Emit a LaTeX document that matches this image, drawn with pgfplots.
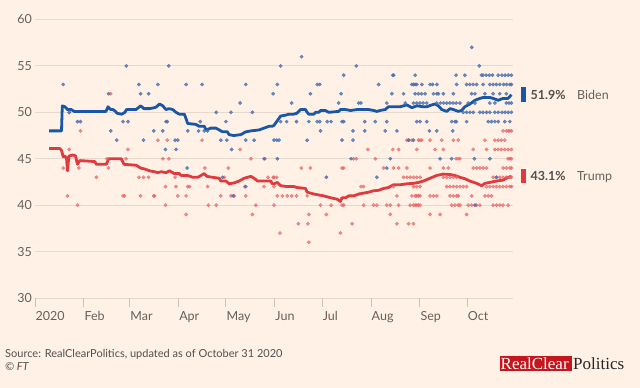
\documentclass[border=0pt]{standalone}
\usepackage{pgfplots}
\pgfplotsset{compat=1.18}
\usepackage{fontspec}
\setmainfont{Lato}
\newfontfamily\rcpfont{Liberation Serif}
\definecolor{bg}{HTML}{FFF1E5}
\definecolor{gridc}{HTML}{E6D9CE}
\definecolor{tickc}{HTML}{CEC3B8}
\definecolor{txt}{HTML}{66605C}
\definecolor{dark}{HTML}{33302E}
\definecolor{biden}{HTML}{1A56A8}
\definecolor{trump}{HTML}{E03A3E}
\definecolor{bidendot}{HTML}{4A6FB2}
\definecolor{trumpdot}{HTML}{EA6466}
\definecolor{rcpred}{HTML}{C4161C}
\begin{document}
\begin{tikzpicture}
\fill[bg] (0,0) rectangle (640bp,388bp);
\begin{axis}[
 at={(35bp,90bp)}, anchor=south west, scale only axis,
 width=478bp, height=278.5bp,
 xmin=0, xmax=303, ymin=30, ymax=60,
 axis line style={draw=none},
 ytick={30,35,...,60}, ymajorgrids, grid style={gridc, line width=0.9bp},
 xtick={0,31,60,91,121,152,182,213,244,274},
 xticklabels={2020,Feb,Mar,Apr,May,Jun,Jul,Aug,Sep,Oct},
 tick pos=left, xtick align=outside,
 major tick length=9bp,
 xtick style={tickc, line width=0.9bp},
 ytick style={draw=none},
 ticklabel style={font=\fontsize{12.5bp}{14bp}\selectfont, text=txt},
 xticklabel style={anchor=north west, inner sep=0pt, xshift=0.5bp, yshift=-4bp},
 yticklabel style={anchor=east, inner sep=0pt, xshift=-3bp},
 /pgf/number format/assume math mode=true,
 clip=false,
]
% Trump polls
\addplot[only marks, color=trumpdot, mark=*, mark size=1.7bp, opacity=0.7, mark options={draw=none, fill=trumpdot}] coordinates {
(48,52) (21.7,50) (28.8,48) (58.9,46) (21.7,46) (17.9,44) (45.5,45) (46.5,44) (57.7,45) (27.8,44) (38.9,43) (65.9,43) (68.8,43) (72,43) (20.6,41) (55.8,41) (56.8,41) (66.9,41) (75.3,41) (26.9,40)
(77.9,47) (83.8,47) (105.9,47) (130,46) (81,45) (84.8,45) (136.8,45) (145.8,45) (107.7,44) (122.5,44) (88.8,43) (120,43) (147.7,43) (151,43) (82.7,42) (89.4,42) (96.8,42) (97.9,42) (109.4,42) (133,42) (145.2,42) (75.8,41) (90.5,41) (95.8,41) (117.8,41) (124.2,41) (126.3,41) (133.6,41) (82.7,40) (109.9,40) (114.9,40) (140,40) (95.8,39) (137.8,39)
(211,46) (226.8,46) (202,45) (203.7,45) (215.7,45) (168.8,44) (174.6,44) (194.6,44) (195.7,44) (221,44) (151.5,43) (153.2,43) (206.6,42) (208.3,42) (151.5,42) (153.6,41) (156.8,41) (159.9,41) (162.7,41) (165.8,41) (172.5,41) (181,40) (187.7,40) (194.6,40) (195.7,40) (208.3,40) (214.6,40) (216.7,40) (223,40) (225.2,40) (151.5,40) (173.6,39) (184.7,39) (225.2,39) (166.9,38) (173,38) (201,38) (155.3,37) (193.6,37) (173.6,36)
(296.7,48) (298.8,48) (300,48) (301,48) (302,48)
(235.7,47) (237,47) (238.9,47) (243.1,47) (244.1,47) (245.2,47) (250.4,47) (257.8,47) (265.2,47) (268.3,47) (285.2,47) (291.5,47) (293.6,47) (295.6,47) (297.8,47)
(230.5,46) (242,46) (253.6,46) (258.9,46) (277.8,46) (286.2,46) (291.5,46) (293.6,46) (295.6,46) (297.8,46) (299.9,46) (302,46)
(266.9,45) (268.3,45) (269.4,45) (299.9,45) (301,45) (302,45)
(227.3,44) (230.5,44) (235.7,44) (250.4,44) (258.9,44) (262,44) (277.8,44) (279.9,44) (282,44) (284.1,44) (286.2,44) (296.7,44) (298.8,44) (301,44) (302,44)
(233.6,43) (235.7,43) (237.8,43) (239.9,43) (242,43) (244.1,43) (258.9,43) (261,43) (263.1,43) (265.2,43) (267.3,43) (290.4,43) (292.5,43) (294.6,43) (296.7,43) (298.8,43) (301,43) (302,43)
(227.3,42) (239.9,42) (242,42) (244.1,42) (261,42) (263.1,42) (265.2,42) (267.3,42) (269.4,42) (271.5,42) (273.6,42) (286.2,42) (288.3,42) (290.4,42) (292.5,42) (294.6,42) (296.7,42) (298.8,42) (301,42) (302,42)
(229.4,41) (238.9,41) (241,41) (242,41) (243.1,41) (244.1,41) (250.4,41) (252.6,41) (254.7,41) (263.1,41) (265.2,41) (267.3,41) (268.3,41) (276.8,41) (285.2,41) (287.3,41) (289.4,41)
(230.5,40) (237.8,40) (239.9,40) (241,40) (242,40) (243.1,40) (244.1,40) (264.1,40) (266.2,40) (268.3,40) (269.4,40) (274.6,40) (276.8,40) (279.9,40) (282,40) (290.4,40) (292.5,40) (294.6,40) (296.7,40) (299.9,40)
(250.4,39) (256.8,39) (273.6,39) (229.4,38) (236.8,38) (239.9,38)
};
% Biden polls
\addplot[only marks, color=bidendot, mark=*, mark size=1.7bp, opacity=0.8, mark options={draw=none, fill=bidendot}] coordinates {
(17.9,53) (57.9,55) (65.9,53) (46.7,52) (66.9,52) (72,52) (21.7,50) (26.9,49) (28.8,49) (55.8,49) (58.9,49) (48,48) (75.3,48) (51.8,47) (68.8,47)
(84.8,55) (77.9,53) (95.8,53) (105.9,53) (133.6,53) (151,52) (130,51) (114.9,50) (124.2,50) (137.8,50) (83.1,49) (83.8,49) (104.8,49) (121,49) (81,48) (96.8,48) (103.7,48) (107.3,48) (109.4,48) (88.8,47) (90.5,47) (117.8,47) (121.6,47) (133.6,47) (138.9,47) (82.7,46) (89.4,46) (124.6,46) (145.2,45) (96.4,44) (118.9,43) (133.6,42) (125.6,41)
(169,56) (155.7,55) (203.7,55) (195.7,54) (226.8,54) (153.6,53) (179,53) (180.5,53) (217.8,53) (174.6,52) (194,52) (226.2,52) (162.7,51) (192.5,51) (205.2,51) (206.6,51) (223,51) (155.7,49) (159.5,49) (165.8,49) (173.6,49) (178.9,49) (180.5,49) (185.2,49) (187.7,49) (194.6,49) (195.7,49) (209,49) (215.7,49) (223,49) (181,48) (201.6,48) (209,48) (222,48) (151.5,47) (153.2,47) (154.7,47) (172.5,47) (194.6,47) (201.6,47) (153.6,45) (200.3,45) (225.2,45) (184.7,43) (216.7,43) (223,44)
(276.8,57) (281.6,55)
(227.3,54) (241,54) (266.9,54) (272.5,54) (283,54) (284,54) (286,54) (288,54) (290,54) (293.6,54) (296,54) (298,54) (300,54) (302,54)
(238.9,53) (240,53) (241,53) (242,53) (245.2,53) (250.4,53) (252,53) (254.7,53) (267.3,53) (273.6,53) (275.7,53) (277.8,53) (279.9,53) (284.1,53) (288.3,53) (290.4,53) (292.5,53) (294.6,53) (297,53) (299,53) (301,53) (302,53)
(233.6,52) (241,52) (243,52) (245,52) (247.3,52) (252.6,52) (254.7,52) (255.7,52) (258.9,52) (265.2,52) (276.8,52) (278.9,52) (285.2,52) (290.4,52) (294.6,52) (298.8,52)
(234.7,51) (239.9,51) (242,51) (244,51) (246,51) (248.3,51) (254.7,51) (257,51) (259,51) (261,51) (263,51) (265,51) (267,51) (269.4,51) (274.6,51) (278.9,51) (288.3,51) (291.5,51) (298.8,51) (300.5,51) (302,51)
(271.5,50) (273.6,50) (275.7,50) (277.8,50) (282,50) (284,50) (286.2,50) (288.3,50) (291.5,50) (293.6,50) (296,50) (298,50) (300,50) (302,50)
(242,49) (244.1,49) (248.3,49) (264.1,49) (266.2,49) (267,49) (273.6,49) (287.3,49) (289.4,49) (291.5,49) (293.6,49) (297.8,49) (301,49)
(229.4,48) (250,48) (254.7,48) (264.8,48) (236.8,47) (239.9,47)
(256.8,45) (264.1,45) (278.5,45) (288.3,45) (292.5,43) (278.9,40)
};
% Trump average
\addplot[trump, line width=2.8bp, line join=round] coordinates {
(9,46.1) (15.8,46.1) (16.8,45.9) (17.9,45.2) (19,45.3) (20,45.0) (20.6,43.7) (21.5,45.3) (24.2,45.4) (25.7,45.3) (26.9,44.4) (28.4,44.8) (37.9,44.7) (38.9,44.4) (45.2,44.4) (46.7,45.0) (54.7,45.0) (56.4,44.4) (64.2,44.3) (66.9,44.0) (69.4,43.9) (72.6,43.7) (75.8,43.6) (77.9,43.5) (80,43.6) (83.1,43.5) (85.2,43.7) (88.4,43.4) (91.5,43.4) (92.6,43.2) (96.8,43.2) (100,43.0) (103.2,43.0) (105.2,43.2) (107.3,43.4) (109,43.1) (112.6,43.0) (116.8,42.9) (117.8,42.6) (121,42.6) (123.1,42.3) (126.3,42.4) (129.4,42.6) (132.6,42.9) (136.8,43.1) (138.9,42.9) (141,42.6) (149.4,42.6) (150.5,42.3) (151.5,42.3) (153.6,42.45) (155.7,42.1) (159.9,42.0) (164.1,42.0) (166.2,41.9) (171.5,41.8) (172.5,41.4) (176.8,41.2) (183,41.0) (187.3,40.8) (191.5,40.65) (193.6,40.4) (194.6,40.8) (196.8,40.8) (198.9,41.0) (202.1,41.0) (205.2,41.2) (208.3,41.3) (211.5,41.4) (214.6,41.55) (217.8,41.6) (221,41.8) (224,41.9) (227.3,42.2) (231.5,42.2) (235.7,42.3) (239.9,42.35) (243.1,42.45) (246.2,42.6) (250.4,42.9) (254.7,43.2) (258.9,43.35) (263.1,43.3) (266.2,43.2) (269.4,43.0) (272.5,42.85) (275.7,42.6) (279.9,42.35) (283.1,42.1) (285.2,42.35) (288.3,42.45) (292.5,42.6) (296.7,42.7) (299.9,43.0) (302,43.1)
};
% Biden average
\addplot[biden, line width=2.8bp, line join=round] coordinates {
(9,48.0) (16.8,48.0) (17.3,50.7) (19,50.6) (20.6,50.3) (23,50.3) (24.8,50.1) (45,50.1) (46.3,50.6) (48,50.3) (49.5,50.3) (51,50.1) (52,49.9) (55,49.8) (57,50.0) (58,50.3) (64,50.3) (67,50.7) (69,50.4) (72.6,50.4) (75.8,50.5) (77,50.6) (79,50.9) (81,50.7) (83,50.3) (85,50.4) (87.3,50.3) (89.4,50.0) (91.5,49.8) (94.7,49.8) (96.8,48.8) (102,48.7) (104,48.5) (107.3,48.5) (108.4,48.1) (111.5,48.3) (114.7,48.3) (116.8,48.1) (118.9,47.9) (122,47.9) (123,47.6) (126,47.5) (130.5,47.6) (133.6,47.9) (136.8,48.0) (142,48.1) (145.2,48.3) (148.4,48.5) (150.5,48.5) (151.5,48.6) (153.6,49.1) (155.7,49.6) (158.9,49.7) (161,49.8) (164,49.8) (166,49.9) (168.3,50.3) (171.5,50.3) (172.5,50.0) (173.6,49.8) (176.8,49.8) (177.8,50.0) (180,50.0) (181,50.2) (184,50.2) (186.2,50.0) (192.5,50.1) (193.6,50.3) (196.8,50.3) (200,50.2) (204.2,50.3) (211.5,50.3) (214.6,50.2) (216.7,50.1) (218.8,50.2) (222,50.3) (224,50.6) (227.3,50.6) (231.5,50.6) (235.7,50.8) (238.9,50.5) (242,50.7) (246.2,50.6) (248.3,50.6) (251.5,50.8) (253.6,50.9) (255.7,50.7) (257.8,50.3) (261,50.1) (263.1,50.4) (265.2,50.3) (268.3,50.1) (270.4,50.2) (272.5,50.6) (275.7,50.9) (278.9,51.3) (282,51.5) (284.1,51.6) (288.3,51.6) (290.4,51.5) (293.6,51.3) (296.7,51.5) (299.9,51.5) (302,51.9)
};
\end{axis}
% end labels
\fill[biden] (520.7bp,286.3bp) rectangle (526bp,300.7bp);
\fill[trump] (520.7bp,205bp) rectangle (526bp,219bp);
\node[anchor=base west, inner sep=0pt, text=dark!85, font=\fontsize{12.5bp}{14bp}\selectfont\bfseries] at (530.5bp,288.7bp) {51.9\%};
\node[anchor=base west, inner sep=0pt, text=txt, font=\fontsize{12.5bp}{14bp}\selectfont] at (577bp,288.7bp) {Biden};
\node[anchor=base west, inner sep=0pt, text=dark!85, font=\fontsize{12.5bp}{14bp}\selectfont\bfseries] at (530.5bp,207.3bp) {43.1\%};
\node[anchor=base west, inner sep=0pt, text=txt, font=\fontsize{12.5bp}{14bp}\selectfont] at (577bp,207.3bp) {Trump};
% source
\node[anchor=base west, inner sep=0pt, text=dark!85, font=\fontsize{11bp}{13bp}\selectfont] at (5bp,31bp) {Source: RealClearPolitics, updated as of October 31 2020};
\node[anchor=base west, inner sep=0pt, text=dark!85, font=\fontsize{11bp}{13bp}\selectfont\itshape] at (5bp,18bp) {\char"00A9\ FT};
% logo
\fill[rcpred] (500bp,17.3bp) rectangle (572bp,32bp);
\node[anchor=base west, inner sep=0pt, text=white, font=\fontsize{17bp}{19bp}\selectfont\rcpfont] at (500.5bp,18.7bp) {RealClear};
\node[anchor=base west, inner sep=0pt, text=black!85, font=\fontsize{17bp}{19bp}\selectfont\rcpfont] at (573bp,18.7bp) {Politics};
\pgfresetboundingbox
\useasboundingbox (0,0) rectangle (640bp,388bp);
\end{tikzpicture}
\end{document}
